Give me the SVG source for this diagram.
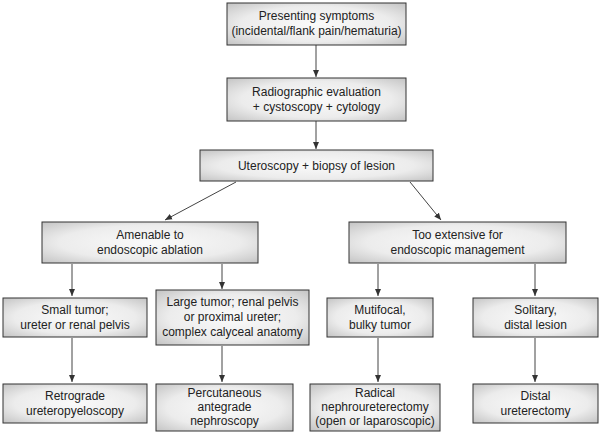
<svg xmlns="http://www.w3.org/2000/svg" width="605" height="434" viewBox="0 0 605 434">
<defs>
<radialGradient id="g" cx="50%" cy="50%" r="70%"><stop offset="0" stop-color="#fafafa"/><stop offset="0.6" stop-color="#ececec"/><stop offset="1" stop-color="#c4c4c4"/></radialGradient>
<marker id="a" markerWidth="8" markerHeight="8" refX="7" refY="4" orient="auto" markerUnits="userSpaceOnUse"><path d="M0,1 L7,4 L0,7 Z" fill="#333"/></marker>
</defs>
<style>
rect{fill:url(#g);stroke:#333;stroke-width:1}
text{font-family:"Liberation Sans",Arial,sans-serif;font-size:12px;fill:#222;text-anchor:middle}
#c line{stroke:#444;stroke-width:1;marker-end:url(#a)}
</style>
<rect width="605" height="434" style="fill:#fff;stroke:none"/>
<g id="c">
<line x1="316" y1="45" x2="316" y2="77"/>
<line x1="316" y1="121" x2="316" y2="149"/>
<line x1="236" y1="182" x2="165" y2="220"/>
<line x1="410" y1="182" x2="441" y2="220"/>
<line x1="72" y1="264" x2="72" y2="296"/>
<line x1="222" y1="264" x2="222" y2="289"/>
<line x1="378" y1="264" x2="378" y2="296"/>
<line x1="535" y1="264" x2="535" y2="296"/>
<line x1="72" y1="338" x2="72" y2="382"/>
<line x1="222" y1="346" x2="222" y2="382"/>
<line x1="378" y1="338" x2="378" y2="382"/>
<line x1="535" y1="338" x2="535" y2="382"/>
</g>
<g id="n1"><rect x="227" y="3" width="179" height="42"/><text x="316.5" y="20">Presenting symptoms</text><text x="316.5" y="35">(incidental/flank pain/hematuria)</text></g>
<g id="n2"><rect x="227" y="78" width="179" height="43"/><text x="316.5" y="96">Radiographic evaluation</text><text x="316.5" y="111">+ cystoscopy + cytology</text></g>
<g id="n3"><rect x="200" y="150" width="233" height="31"/><text x="316.5" y="170">Uteroscopy + biopsy of lesion</text></g>
<g id="n4"><rect x="42" y="222" width="216" height="41"/><text x="150" y="239">Amenable to</text><text x="150" y="254">endoscopic ablation</text></g>
<g id="n5"><rect x="349" y="222" width="217" height="41"/><text x="457.5" y="239">Too extensive for</text><text x="457.5" y="254">endoscopic management</text></g>
<g id="n6"><rect x="3" y="298" width="144" height="39"/><text x="75" y="314">Small tumor;</text><text x="75" y="329">ureter or renal pelvis</text></g>
<g id="n7"><rect x="156" y="290" width="153" height="55"/><text x="232.5" y="306">Large tumor; renal pelvis</text><text x="232.5" y="321">or proximal ureter;</text><text x="232.5" y="336">complex calyceal anatomy</text></g>
<g id="n8"><rect x="327" y="298" width="106" height="39"/><text x="380" y="314">Mutifocal,</text><text x="380" y="329">bulky tumor</text></g>
<g id="n9"><rect x="473" y="298" width="125" height="39"/><text x="535.5" y="314">Solitary,</text><text x="535.5" y="329">distal lesion</text></g>
<g id="n10"><rect x="3" y="384" width="144" height="39"/><text x="75" y="400">Retrograde</text><text x="75" y="415">ureteropyeloscopy</text></g>
<g id="n11"><rect x="156" y="384" width="137" height="47"/><text x="224.5" y="397">Percutaneous</text><text x="224.5" y="411">antegrade</text><text x="224.5" y="425">nephroscopy</text></g>
<g id="n12"><rect x="310" y="384" width="130" height="47"/><text x="375" y="397">Radical</text><text x="375" y="411">nephroureterectomy</text><text x="375" y="425">(open or laparoscopic)</text></g>
<g id="n13"><rect x="473" y="384" width="125" height="39"/><text x="535.5" y="400">Distal</text><text x="535.5" y="415">ureterectomy</text></g>
</svg>
